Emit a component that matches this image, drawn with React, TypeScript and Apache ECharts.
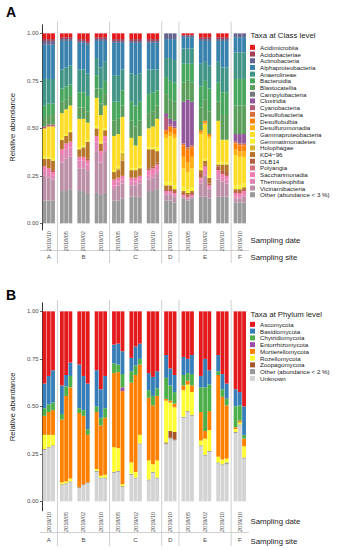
import React, { useEffect, useRef } from "react";
import * as echarts from "echarts";

const FONT = '"Liberation Sans", Arial, Helvetica, sans-serif';

// ---- categories (site|sampling date), 3 replicate bars per group ----
const groupKeys = [
  "A|2019/10",
  "B|2018/05", "B|2019/02", "B|2019/10",
  "C|2018/05", "C|2019/02", "C|2019/10",
  "D|2019/10",
  "E|2018/05", "E|2019/02", "E|2019/10",
  "F|2019/10",
];
const siteLabels = ["A", "", "B", "", "", "C", "", "D", "", "E", "", "F"];
const siteStarts = [1, 4, 7, 8, 11];
const yTicks = [0, 0.25, 0.5, 0.75, 1];

// ---- Panel A: class level ----
const classTaxa = [
  "Acidimicrobiia", "Acidobacteriae", "Actinobacteria", "Alphaproteobacteria",
  "Anaerolineae", "Bacteroidia", "Blastocatellia", "Campylobacteria",
  "Clostridia", "Cyanobacteria", "Desulfobacteria", "Desulfobulbia",
  "Desulfuromonadia", "Gammaproteobacteria", "Gemmatimonadetes", "Holophagae",
  "KD4\u221296", "OLB14", "Polyangia", "Saccharimonadia", "Thermoleophilia",
  "Vicinamibacteria", "Other (abundance < 3 %)",
];
const classColors = [
  "#E41A1C", "#A53E55", "#66638D", "#3982AE", "#419486", "#49A65E", "#5B9D5A",
  "#767A7B", "#91579B", "#B45B77", "#DA6D3B", "#FF7F00", "#FFAE13", "#FFDC25",
  "#F7F032", "#D7B22E", "#B6752A", "#B55E43", "#D26D7A", "#F07DB1", "#DD87B5",
  "#BB90A7", "#999999",
];
const acidimicrobiia = [.03,.03,.03, .02,.02,.02, .03,.03,.04, .02,.02,.02, .03,.03,.03, .03,.03,.03, .03,.03,.03, 0,0,0, .01,.01,.01, .02,.02,.02, .02,.02,.02, 0,0,0];
const acidobacteriae = [.01,.01,.01, .01,.01,.01, .01,.01,.01, .01,.01,.01, .01,.01,.01, .01,.01,.01, .01,.01,.01, 0,0,0, 0,0,0, .01,.01,.01, .01,.01,.01, 0,0,0];
const actinobacteria = [.02,.02,.02, .01,.01,.01, .01,.01,.01, .01,.01,.01, .01,.01,.01, .01,.01,.01, .01,.01,.01, .03,.03,.03, .01,.01,.01, .01,.01,.01, .01,.01,.01, .02,.02,.02];
const alphaproteobacteria = [.18,.18,.18, .15,.14,.13, .14,.14,.15, .09,.14,.11, .17,.17,.14, .16,.17,.16, .14,.14,.14, .10,.10,.11, .06,.06,.06, .12,.11,.13, .11,.14,.14, .08,.08,.08];
const anaerolineae = [.14,.13,.13, .10,.10,.10, .12,.12,.12, .09,.11,.10, .14,.14,.11, .15,.16,.15, .13,.12,.11, .10,.12,.12, .08,.08,.08, .12,.10,.12, .11,.13,.13, .14,.14,.14];
const bacteroidia = [.06,.06,.06, .07,.07,.06, .08,.08,.08, .07,.08,.07, .10,.09,.08, .10,.11,.10, .10,.10,.08, .09,.10,.10, .10,.09,.10, .11,.10,.12, .10,.12,.12, .14,.14,.14];
const blastocatellia = [.05,.05,.05, .06,.05,.05, .06,.06,.06, .05,.06,.06, .08,.08,.06, .09,.10,.08, .08,.08,.07, .10,.10,.10, .10,.10,.10, .12,.11,.12, .10,.13,.13, .15,.15,.15];
const campylobacteria = [0,0,0, 0,0,0, 0,0,0, 0,0,0, 0,0,0, 0,0,0, 0,0,0, 0,0,0, 0,0,0, 0,0,0, 0,0,0, 0,0,0];
const clostridia = [0,0,0, 0,0,0, 0,0,0, 0,0,0, 0,0,0, 0,0,0, 0,0,0, .02,.03,.03, .22,.25,.23, 0,0,0, 0,0,0, .04,.05,.05];
const cyanobacteria = [.01,.01,.01, 0,0,0, 0,0,0, 0,0,0, 0,0,0, 0,0,0, 0,0,0, .07,.01,.01, 0,0,0, 0,0,0, 0,0,0, 0,0,0];
const desulfobacteria = [0,0,0, 0,0,0, 0,0,0, 0,0,0, 0,0,0, 0,0,0, 0,0,0, 0,0,0, .01,.01,.01, 0,0,0, 0,0,0, .01,.01,.01];
const desulfobulbia = [0,0,0, 0,0,0, 0,0,0, 0,0,0, 0,0,0, 0,0,0, 0,0,0, .02,.03,.03, .06,.07,.05, .01,.01,.01, 0,0,0, .03,.03,.03];
const desulfuromonadia = [0,0,0, 0,0,0, 0,0,0, 0,0,0, 0,0,0, 0,0,0, 0,0,0, .02,.02,.02, .06,.05,.06, .01,.01,.01, 0,0,0, .03,.03,.03];
const gammaproteobacteria = [.15,.16,.17, .13,.13,.13, .15,.14,.09, .15,.14,.12, .18,.17,.18, .16,.12,.16, .10,.11,.15, .23,.24,.25, .10,.09,.10, .18,.18,.20, .22,.12,.12, .16,.15,.14];
const gemmatimonadetes = [.01,.01,.01, .01,.01,.01, .01,.01,.01, .01,.01,.01, .01,.01,.01, .01,.01,.01, .01,.01,.02, .02,.02,.02, .02,.02,.02, .01,.01,.01, .01,.01,.01, .02,.02,.02];
const holophagae = [0,0,0, 0,0,0, 0,0,0, 0,0,0, 0,.01,.04, 0,0,0, 0,0,0, 0,0,0, 0,0,0, 0,0,0, 0,0,0, 0,0,0];
const kd4_96 = [.04,.05,.05, .05,.04,.05, .04,.05,.09, .04,.04,.03, .04,.04,.08, .04,.04,.04, .10,.09,.06, .02,.02,.01, .01,.01,.01, .02,.02,.03, .01,.03,.04, .01,.01,.01];
const olb14 = [0,0,.01, 0,0,0, 0,0,.01, 0,0,0, 0,0,0, 0,0,0, .01,.01,.01, .01,.01,.01, .01,.01,.01, .02,.01,.01, .02,.02,.02, .01,.01,.01];
const polyangia = [0,0,0, 0,0,0, 0,0,0, 0,0,0, 0,0,0, 0,0,0, 0,0,0, 0,0,0, 0,0,0, 0,0,0, 0,0,0, 0,0,0];
const saccharimonadia = [.02,.02,.02, .03,.03,.03, .02,.02,.02, .03,.02,.03, .03,.02,.02, .02,.02,.02, .03,.03,.03, .01,.01,.01, .01,.01,.01, .01,.02,.01, .02,.02,.02, .02,.02,.02];
const thermoleophilia = [.03,.03,.02, .04,.05,.05, .04,.04,.03, .05,.04,.05, .02,.02,.02, .02,.02,.02, .02,.02,.02, .01,.01,.01, 0,0,0, .02,.03,.01, .03,.02,.02, .01,.01,.01];
const vicinamibacteria = [.13,.12,.11, .15,.17,.17, .12,.12,.12, .22,.17,.22, .06,.08,.08, .06,.06,.07, .06,.07,.08, .03,.03,.03, .01,.01,.01, .07,.11,.05, .09,.08,.07, .02,.02,.03];
const otherClass = [.12,.12,.12, .17,.17,.18, .17,.17,.16, .16,.15,.16, .12,.12,.13, .14,.14,.14, .17,.17,.18, .12,.12,.11, .13,.12,.13, .14,.14,.13, .14,.14,.14, .11,.11,.11];
const classValues = [
  acidimicrobiia, acidobacteriae, actinobacteria, alphaproteobacteria, anaerolineae,
  bacteroidia, blastocatellia, campylobacteria, clostridia, cyanobacteria,
  desulfobacteria, desulfobulbia, desulfuromonadia, gammaproteobacteria,
  gemmatimonadetes, holophagae, kd4_96, olb14, polyangia, saccharimonadia,
  thermoleophilia, vicinamibacteria, otherClass,
];

// ---- Panel B: phylum level ----
const phylumTaxa = [
  "Ascomycota", "Basidiomycota", "Chytridiomycota", "Entorrhizomycota",
  "Mortierellomycota", "Rozellomycota", "Zoopagomycota",
  "Other (abundance < 2 %)", "Unknown",
];
const phylumColors = [
  "#E41A1C", "#377EB8", "#4DAF4A", "#984EA3", "#FF7F00", "#FFFF33", "#A65628",
  "#999999", "#D3D3D3",
];
const ascomycota = [.38,.34,.31, .39,.335,.27, .28,.34,.38, .31,.41,.34, .175,.17,.21, .245,.185,.17, .325,.345,.315, .23,.30,.335, .24,.25,.23, .34,.25,.31, .23,.33,.38, .41,.425,.50];
const basidiomycota = [.13,.15,.17, .15,.06,.07, .23,.18,.24, .19,.15,.17, .10,.11,.12, .07,.10,.08, .09,.10,.09, .12,.09,.09, .095,.075,.10, .06,.15,.075, .085,.08,.08, .09,.07,.15];
const chytridiomycota = [.04,.04,.04, .03,.05,.06, .025,.03,.03, .03,.04,.05, .05,.04,.07, .06,.05,.03, .04,.05,.04, .11,.08,.06, .055,.04,.06, .13,.23,.14, .02,.04,.035, .11,.08,.02];
const entorrhizomycota = [0,0,0, 0,0,0, 0,0,0, 0,0,0, 0,0,.02, 0,0,0, 0,0,0, 0,0,0, 0,0,0, 0,0,0, 0,0,0, 0,0,0];
const mortierellomycota = [.10,.12,.13, .33,.45,.48, .39,.36,.25, .30,.265,.30, .39,.40,.49, .42,.51,.37, .33,.31,.34, .01,.01,.02, .025,.02,.035, .15,.04,.10, .43,.33,.28, .01,.01,.04];
const rozellomycota = [.075,.065,.055, .01,.01,.015, 0,0,0, .01,.01,.015, .13,.12,.01, .06,.03,.045, .10,.04,.09, .22,.15,.13, .14,.14,.12, .025,.085,.11, .03,.025,.02, .015,.01,.06];
const zoopagomycota = [0,0,0, 0,0,0, 0,0,0, 0,0,0, 0,0,0, 0,0,0, 0,0,0, .005,.035,.04, 0,0,0, 0,0,0, 0,0,0, 0,0,0];
const otherPhylum = [.005,.005,.005, .005,.005,.005, .005,.005,.005, .005,.005,.005, .005,.005,.005, .005,.005,.005, .005,.005,.005, .005,.005,.005, .005,.005,.005, .005,.005,.005, .005,.005,.01, .005,.005,.005];
const unknown = [.27,.28,.29, .085,.09,.10, .07,.085,.095, .155,.12,.12, .15,.155,.075, .14,.12,.30, .11,.15,.12, .30,.33,.32, .44,.47,.45, .29,.24,.26, .20,.19,.195, .36,.40,.225];
const phylumValues = [
  ascomycota, basidiomycota, chytridiomycota, entorrhizomycota, mortierellomycota,
  rozellomycota, zoopagomycota, otherPhylum, unknown,
];

// ---- layout ----
const GRID_LEFT = 33.5;
const GRID_WIDTH = 215;
const Y_MAX = 1.045;
const panels = [
  { key: "A", title: "Taxa at Class level", taxa: classTaxa, colors: classColors, values: classValues,
    top: 24.8, yMin: -0.035, unit: 190, legendTop: 44, legendLine: 6.7, titleY: 35,
    siteOffset: 20, dateTextY: 240, siteTextY: 257.5, labelY: 12.3, sepTop: 21.7, sepBottom: 263 },
  { key: "B", title: "Taxa at Phylum level", taxa: phylumTaxa, colors: phylumColors, values: phylumValues,
    top: 302.8, yMin: -0.05, unit: 190, legendTop: 321, legendLine: 6.75, titleY: 314.3,
    siteOffset: 21.7, dateTextY: 521.7, siteTextY: 541.7, labelY: 295.3, sepTop: 300, sepBottom: 546 },
];

function buildOption() {
  const grid: any[] = [];
  const xAxis: any[] = [];
  const yAxis: any[] = [];
  const series: any[] = [];
  const legend: any[] = [];
  panels.forEach((p, pi) => {
    const height = (Y_MAX - p.yMin) * p.unit;
    grid.push({ left: GRID_LEFT, width: GRID_WIDTH, top: p.top, height });
    xAxis.push({
      type: "category", gridIndex: pi, data: groupKeys, position: "bottom",
      axisLine: { show: false }, axisTick: { show: false }, splitLine: { show: false },
      axisLabel: {
        interval: 0, rotate: 90, fontSize: 5.6, color: "#4d4d4d", margin: 1, fontFamily: FONT,
        formatter: (v: string) => v.split("|")[1],
      },
    });
    xAxis.push({
      type: "category", gridIndex: pi, data: groupKeys, position: "bottom", offset: p.siteOffset,
      axisLine: { show: true, lineStyle: { color: "#c4c4c4", width: 0.8 } },
      axisTick: { show: false }, splitLine: { show: false },
      axisLabel: {
        interval: 0, fontSize: 6.2, color: "#4d4d4d", margin: 3.5, fontFamily: FONT,
        formatter: (_v: string, i: number) => siteLabels[i],
      },
    });
    yAxis.push({
      type: "value", gridIndex: pi, min: p.yMin, max: Y_MAX, offset: -2,
      axisLine: { show: true, lineStyle: { color: "#000", width: 0.8 } },
      axisTick: { show: true, length: 2, customValues: yTicks, lineStyle: { color: "#333", width: 0.8 } },
      axisLabel: {
        customValues: yTicks, fontSize: 6, color: "#4d4d4d", margin: 3.5, fontFamily: FONT,
        formatter: (v: number) => v.toFixed(2),
      },
      splitLine: { show: false },
      name: "Relative abundance", nameLocation: "middle", nameGap: 18,
      nameTextStyle: { fontSize: 7.8, color: "#1a1a1a", fontFamily: FONT },
    });
    for (let r = 0; r < 3; r++) {
      for (let t = p.taxa.length - 1; t >= 0; t--) {
        series.push({
          type: "bar", name: p.taxa[t], stack: p.key + r,
          xAxisIndex: pi * 2, yAxisIndex: pi,
          barWidth: 3.8, barGap: "12%",
          itemStyle: { color: p.colors[t] },
          silent: true, emphasis: { disabled: true },
          data: groupKeys.map((_k, g) => p.values[t][g * 3 + r]),
        });
      }
    }
    legend.push({
      data: p.taxa, orient: "vertical", left: 250, top: p.legendTop, padding: 0,
      itemWidth: 5, itemHeight: 5, itemGap: 0, icon: "rect", selectedMode: false,
      textStyle: { fontSize: 6.2, lineHeight: p.legendLine, color: "#1a1a1a", fontFamily: FONT },
    });
  });
  return { animation: false, grid, xAxis, yAxis, series, legend };
}

export default function App() {
  const ref = useRef<HTMLDivElement>(null);
  useEffect(() => {
    document.body.style.margin = "0";
    if (!ref.current) return;
    const chart = echarts.init(ref.current, undefined, { renderer: "svg" });
    chart.setOption(buildOption() as any);

    const graphic: any[] = [];
    panels.forEach((p, pi) => {
      const centers = groupKeys.map((_k, i) =>
        chart.convertToPixel({ xAxisIndex: pi * 2 } as any, i) as number
      );
      siteStarts.forEach((s) => {
        const x = (centers[s - 1] + centers[s]) / 2;
        graphic.push({
          type: "line", silent: true, z: 0,
          shape: { x1: x, y1: p.sepTop, x2: x, y2: p.sepBottom },
          style: { stroke: "#c4c4c4", lineWidth: 0.8 },
        });
      });
      graphic.push({
        type: "text", left: 6, top: p.labelY - 7,
        style: { text: p.key, fontSize: 14, fontWeight: "bold", fontFamily: FONT, fill: "#000" },
      });
      graphic.push({
        type: "text", x: 250.5, y: p.titleY,
        style: { text: p.title, fontSize: 7.8, fontFamily: FONT, fill: "#1a1a1a", textVerticalAlign: "middle", verticalAlign: "middle" },
      });
      graphic.push({
        type: "text", x: 250.5, y: p.dateTextY,
        style: { text: "Sampling date", fontSize: 7.8, fontFamily: FONT, fill: "#1a1a1a", verticalAlign: "middle" },
      });
      graphic.push({
        type: "text", x: 250.5, y: p.siteTextY,
        style: { text: "Sampling site", fontSize: 7.8, fontFamily: FONT, fill: "#1a1a1a", verticalAlign: "middle" },
      });
    });
    chart.setOption({ graphic });
    return () => chart.dispose();
  }, []);
  return <div ref={ref} style={{ width: 337, height: 550 }} />;
}
